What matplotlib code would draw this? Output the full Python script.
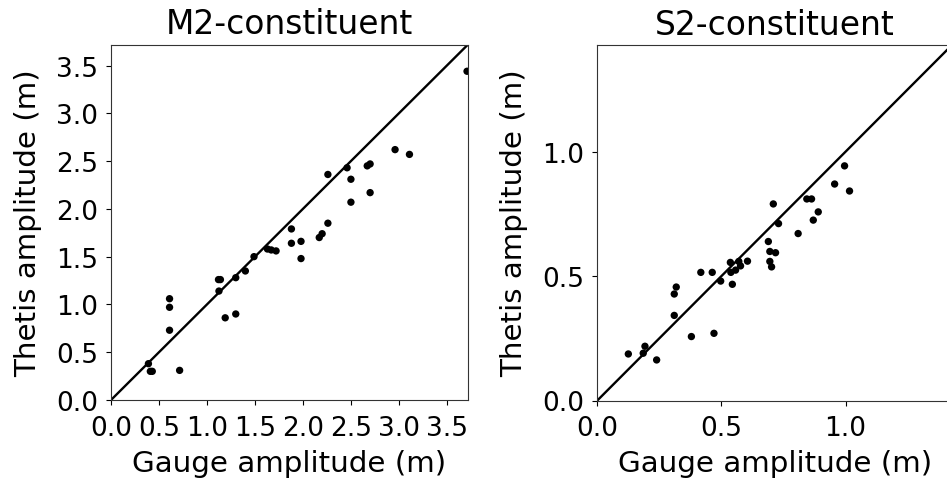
import matplotlib.pyplot as plt
import numpy as np

# M2 constituent: gauge vs model amplitude (m)
m2_gauge = [0.39, 0.41, 0.43, 0.61, 0.61, 0.61, 0.715, 1.12, 1.14, 1.125, 1.19, 1.30,
            1.30, 1.40, 1.49, 1.63, 1.67, 1.72, 1.88, 1.88, 1.98, 1.98, 2.17, 2.20,
            2.26, 2.26, 2.46, 2.50, 2.50, 2.67, 2.70, 2.70, 2.96, 3.11, 3.71]
m2_thetis = [0.38, 0.30, 0.30, 1.06, 0.97, 0.73, 0.31, 1.26, 1.26, 1.14, 0.86, 0.90,
             1.28, 1.35, 1.50, 1.58, 1.57, 1.56, 1.79, 1.64, 1.66, 1.48, 1.70, 1.74,
             1.85, 2.36, 2.43, 2.31, 2.07, 2.45, 2.47, 2.17, 2.62, 2.57, 3.44]

# S2 constituent
s2_gauge = [0.125, 0.185, 0.192, 0.239, 0.310, 0.310, 0.318, 0.379, 0.417, 0.463, 0.470,
            0.497, 0.536, 0.538, 0.544, 0.557, 0.570, 0.577, 0.605, 0.689, 0.695, 0.695,
            0.702, 0.709, 0.718, 0.730, 0.809, 0.844, 0.863, 0.870, 0.890, 0.956, 0.996, 1.016]
s2_thetis = [0.187, 0.190, 0.218, 0.163, 0.342, 0.428, 0.456, 0.257, 0.515, 0.515, 0.270,
             0.480, 0.555, 0.515, 0.467, 0.524, 0.559, 0.541, 0.560, 0.639, 0.599, 0.559,
             0.537, 0.790, 0.594, 0.711, 0.671, 0.810, 0.810, 0.725, 0.758, 0.870, 0.943, 0.842]

m2_lim = 3.72
s2_lim = 1.43

W, H = 947, 481
fig = plt.figure(figsize=(W / 100, H / 100), dpi=100)

ax1 = fig.add_axes([111 / W, (H - 401) / H, 357 / W, 355.5 / H])
ax2 = fig.add_axes([597.3 / W, (H - 401.5) / H, 355 / W, 355.8 / H])

panels = [
    (ax1, m2_gauge, m2_thetis, m2_lim, 'M2-constituent', np.arange(0, 3.6, 0.5)),
    (ax2, s2_gauge, s2_thetis, s2_lim, 'S2-constituent', [0.0, 0.5, 1.0]),
]

for ax, g, t, lim, title, ticks in panels:
    ax.plot([0, lim], [0, lim], color='k', lw=1.7)
    ax.scatter(g, t, s=28, color='k', edgecolors='none', zorder=3)
    ax.set_xlim(0, lim)
    ax.set_ylim(0, lim)
    ax.set_xticks(ticks)
    ax.set_yticks(ticks)
    ax.xaxis.set_major_formatter(plt.FuncFormatter(lambda v, _: '{:.1f}'.format(v)))
    ax.yaxis.set_major_formatter(plt.FuncFormatter(lambda v, _: '{:.1f}'.format(v)))
    ax.tick_params(labelsize=19)
    ax.tick_params(axis='x', pad=7)
    ax.tick_params(axis='y', pad=6)
    ax.set_xlabel('Gauge amplitude (m)', fontsize=21.2, labelpad=6)
    ax.set_ylabel('Thetis amplitude (m)', fontsize=21.2, labelpad=10)
    ax.set_title(title, fontsize=23.7, pad=8)
    for s in ax.spines.values():
        s.set_color('#333333')

fig.savefig('out.png', dpi=100)
